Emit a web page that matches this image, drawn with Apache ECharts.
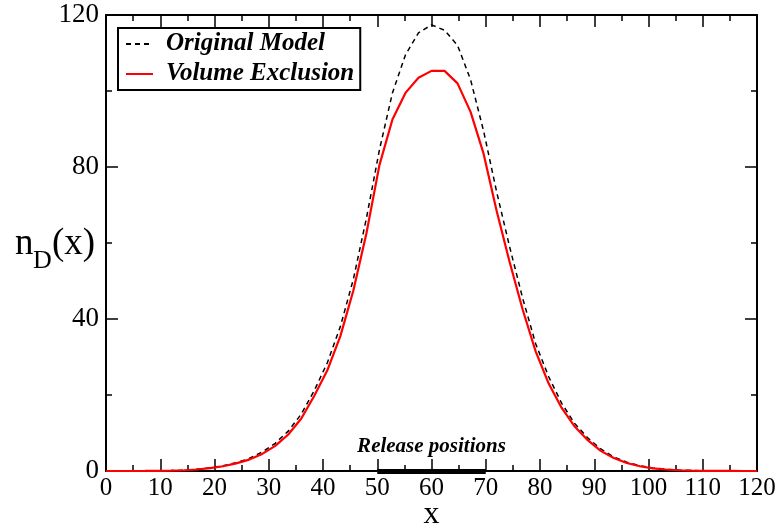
<!DOCTYPE html>
<html>
<head>
<meta charset="utf-8">
<title>Density profile n_D(x)</title>
<script src="https://cdn.jsdelivr.net/npm/echarts@6/dist/echarts.min.js"></script>
<style>
  html, body { margin: 0; padding: 0; background: #fff; }
  #chart { width: 782px; height: 526px; }
</style>
</head>
<body>
<div id="chart"></div>
<script>
// Sample positions along x
const xPositions = [
  0, 2.4, 4.8, 7.2, 9.6, 12, 14.4, 16.8, 19.2, 21.6,
  24, 26.4, 28.8, 31.2, 33.6, 36, 38.4, 40.8, 43.2, 45.6,
  48, 50.4, 52.8, 55.2, 57.6, 60, 62.4, 64.8, 67.2, 69.6,
  72, 74.4, 76.8, 79.2, 81.6, 84, 86.4, 88.8, 91.2, 93.6,
  96, 98.4, 100.8, 103.2, 105.6, 108, 110.4, 112.8, 115.2, 117.6, 120
];

// n_D(x) for the original model
const originalModel = [
  0, 0, 0, 0.01, 0.04, 0.1, 0.22, 0.45, 0.85, 1.4,
  2.2, 3.3, 5.0, 7.3, 10.5, 15, 21.2, 28.5, 38, 50.5,
  66.5, 84.5, 99.5, 109.5, 115.3, 117.4, 116, 112, 103, 89.5,
  73.5, 59, 45.5, 33.5, 24.8, 17.8, 12.5, 8.7, 5.8, 3.7,
  2.3, 1.4, 0.8, 0.45, 0.25, 0.12, 0.06, 0.03, 0.01, 0, 0
];

// n_D(x) with volume exclusion
const volumeExclusion = [
  0, 0, 0, 0.01, 0.03, 0.08, 0.2, 0.4, 0.75, 1.25,
  2.0, 3.0, 4.5, 6.6, 9.6, 13.8, 19.8, 26.5, 35.5, 47.5,
  62.5, 80.5, 92.5, 99.5, 103.5, 105.3, 105.3, 102, 94.5, 83.5,
  68.5, 55, 42.5, 31.5, 23, 16.6, 11.7, 8.1, 5.3, 3.4,
  2.1, 1.25, 0.7, 0.4, 0.2, 0.1, 0.05, 0.02, 0.01, 0, 0
];

// Interval of release positions
const releaseRange = [50, 70];

// Axis ranges
const xRange = [0, 120];
const yRange = [0, 120];
const xStep = 10;
const yStep = 40;

const seriesNames = ['Original Model', 'Volume Exclusion'];
const releaseLabel = 'Release positions';

const zip = (xs, ys) => xs.map((x, i) => [x, ys[i]]);

const serif = 'Liberation Serif, Times New Roman, serif';

const tickStyle = { color: '#000', width: 1.5 };

function makeXAxis(position, showLabels) {
  return {
    type: 'value',
    position: position,
    min: xRange[0],
    max: xRange[1],
    interval: xStep,
    axisLine: { show: true, onZero: false, lineStyle: { color: '#000', width: 2 } },
    axisTick: { show: true, inside: true, length: 12, lineStyle: tickStyle },
    minorTick: { show: true, splitNumber: 2, length: 6, lineStyle: tickStyle },
    splitLine: { show: false },
    axisLabel: {
      show: showLabels, color: '#000', fontFamily: serif, fontSize: 25,
      lineHeight: 22, margin: 6
    }
  };
}

function makeYAxis(position, showLabels) {
  return {
    type: 'value',
    position: position,
    min: yRange[0],
    max: yRange[1],
    interval: yStep,
    axisLine: { show: true, onZero: false, lineStyle: { color: '#000', width: 2 } },
    axisTick: { show: true, inside: true, length: 12, lineStyle: tickStyle },
    minorTick: { show: true, splitNumber: 2, length: 6, lineStyle: tickStyle },
    splitLine: { show: false },
    axisLabel: {
      show: showLabels, color: '#000', fontFamily: serif, fontSize: 27, margin: 7
    }
  };
}

const chart = echarts.init(document.getElementById('chart'), null, { renderer: 'canvas' });

const xAxisBottom = makeXAxis('bottom', true);
xAxisBottom.name = 'x';
xAxisBottom.nameLocation = 'middle';
xAxisBottom.nameGap = 28;
xAxisBottom.nameMoveOverlap = false;
xAxisBottom.nameTextStyle = { color: '#000', fontFamily: serif, fontSize: 32 };

chart.setOption({
  backgroundColor: '#fff',
  animation: false,
  grid: {
    left: 106, right: 25, top: 15, bottom: 55,
    containLabel: false, outerBoundsMode: 'none'
  },
  legend: {
    data: seriesNames,
    orient: 'vertical',
    left: 118,
    top: 28,
    padding: [2, 6, 2, 7],
    itemGap: 2,
    itemWidth: 27,
    itemHeight: 14,
    borderColor: '#000',
    borderWidth: 2,
    backgroundColor: '#fff',
    itemStyle: { color: 'rgba(0,0,0,0)', borderWidth: 0 },
    textStyle: {
      color: '#000', fontFamily: serif, fontSize: 25, fontWeight: 'bold',
      fontStyle: 'italic', lineHeight: 28, padding: [0, 0, 0, 8]
    }
  },
  xAxis: [xAxisBottom, makeXAxis('top', false)],
  yAxis: [makeYAxis('left', true), makeYAxis('right', false)],
  graphic: [
    {
      type: 'group',
      left: 15,
      top: 226,
      children: [
        { type: 'text', x: 0, y: 0,
          style: { text: 'n', fill: '#000', font: '37px ' + serif } },
        { type: 'text', x: 18, y: 22,
          style: { text: 'D', fill: '#000', font: '26px ' + serif } },
        { type: 'text', x: 37, y: 0,
          style: { text: '(x)', fill: '#000', font: '37px ' + serif } }
      ]
    }
  ],
  series: [
    {
      name: seriesNames[0],
      type: 'line',
      data: zip(xPositions, originalModel),
      showSymbol: false,
      symbol: 'none',
      color: '#000',
      lineStyle: { color: '#000', width: 1.5, type: [5, 4] },
      z: 3
    },
    {
      name: seriesNames[1],
      type: 'line',
      data: zip(xPositions, volumeExclusion),
      showSymbol: false,
      symbol: 'none',
      color: '#ff0000',
      lineStyle: { color: '#ff0000', width: 2.2 },
      z: 4
    },
    {
      name: releaseLabel,
      type: 'line',
      data: [],
      markLine: {
        silent: true,
        symbol: ['none', 'none'],
        animation: false,
        lineStyle: { color: '#000', width: 5, type: 'solid' },
        label: {
          show: true,
          position: 'middle',
          formatter: releaseLabel,
          distance: 14,
          color: '#000',
          fontFamily: serif,
          fontSize: 21,
          fontWeight: 'bold',
          fontStyle: 'italic'
        },
        emphasis: { disabled: true },
        data: [[
          { coord: [releaseRange[0], 0] },
          { coord: [releaseRange[1], 0] }
        ]]
      },
      z: 5
    }
  ]
});
</script>
</body>
</html>
